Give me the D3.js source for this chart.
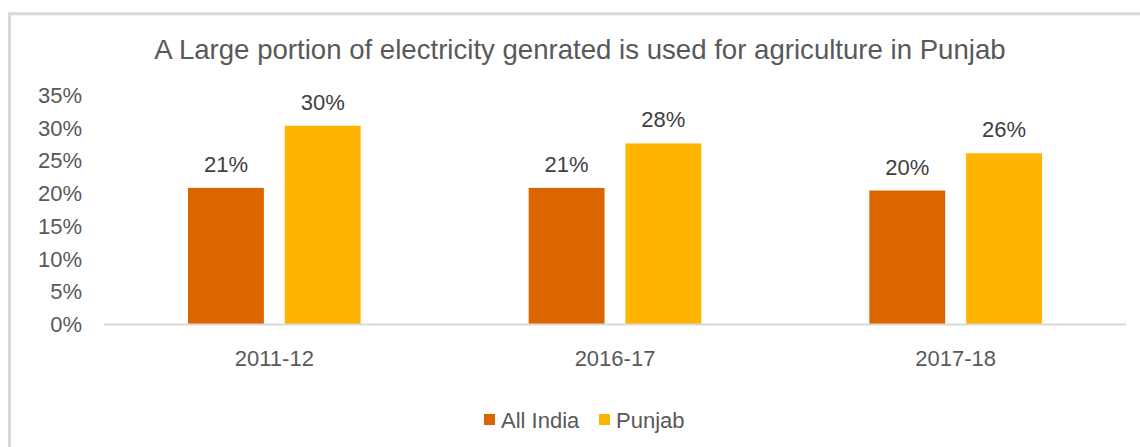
<!DOCTYPE html>
<html>
<head>
<meta charset="utf-8">
<style>
  body { margin: 0; background: #fff; }
  text { font-family: "Liberation Sans", Arial, sans-serif; fill: #595959; }
</style>
</head>
<body>
<svg width="1140" height="447"></svg>
<script src="https://d3js.org/d3.v7.min.js"></script>
<script>
var categories = ["2011-12", "2016-17", "2017-18"];
var series = ["All India", "Punjab"];
var allIndia = [20.8, 20.8, 20.4];
var punjab = [30.3, 27.6, 26.1];
var labels = [["21%", "30%"], ["21%", "28%"], ["20%", "26%"]];
var yTicks = [0, 5, 10, 15, 20, 25, 30, 35];
var colors = ["#db6600", "#ffb400"];

var svg = d3.select("svg");

// outer border, cut off on right and bottom
svg.append("rect")
    .attr("x", 9.5).attr("y", 13.8)
    .attr("width", 1160).attr("height", 460)
    .attr("fill", "none")
    .attr("stroke", "#d9d9d9")
    .attr("stroke-width", 3);

svg.append("text")
    .attr("x", 580).attr("y", 59)
    .attr("text-anchor", "middle")
    .attr("font-size", 27.6)
    .text("A Large portion of electricity genrated is used for agriculture in Punjab");

var y = d3.scaleLinear().domain([0, 35]).range([324, 95]);

var x0 = d3.scaleBand().domain(categories).range([104, 1126]);
var x1 = d3.scaleBand().domain(series)
    .range([84, x0.bandwidth() - 84])
    .paddingInner(0.216);

// y labels
svg.append("g").selectAll("text")
  .data(yTicks)
  .enter().append("text")
    .attr("x", 82)
    .attr("y", function(d) { return y(d) + 8; })
    .attr("text-anchor", "end")
    .attr("font-size", 22)
    .text(function(d) { return d + "%"; });

var rows = categories.map(function(c, i) {
  return { cat: c, vals: [allIndia[i], punjab[i]], labs: labels[i] };
});

var groups = svg.append("g").selectAll("g")
  .data(rows)
  .enter().append("g")
    .attr("transform", function(d) { return "translate(" + x0(d.cat) + ",0)"; });

groups.selectAll("rect")
  .data(function(d) { return d.vals.map(function(v, j) { return { s: series[j], v: v, j: j }; }); })
  .enter().append("rect")
    .attr("x", function(d) { return x1(d.s); })
    .attr("y", function(d) { return y(d.v); })
    .attr("width", x1.bandwidth())
    .attr("height", function(d) { return y(0) - y(d.v); })
    .attr("fill", function(d) { return colors[d.j]; });

groups.selectAll("text")
  .data(function(d) { return d.vals.map(function(v, j) { return { s: series[j], v: v, l: d.labs[j] }; }); })
  .enter().append("text")
    .attr("x", function(d) { return x1(d.s) + x1.bandwidth() / 2; })
    .attr("y", function(d) { return y(d.v) - 16; })
    .attr("text-anchor", "middle")
    .attr("font-size", 22)
    .style("fill", "#404040")
    .text(function(d) { return d.l; });

// baseline
svg.append("line")
    .attr("x1", 104).attr("x2", 1126)
    .attr("y1", y(0) + 0.5).attr("y2", y(0) + 0.5)
    .attr("stroke", "#d9d9d9")
    .attr("stroke-width", 2);

// category labels
svg.append("g").selectAll("text")
  .data(categories)
  .enter().append("text")
    .attr("x", function(d) { return x0(d) + x0.bandwidth() / 2; })
    .attr("y", 366)
    .attr("text-anchor", "middle")
    .attr("font-size", 22)
    .text(function(d) { return d; });

// legend
var legend = svg.append("g");
var legX = [484, 599];
series.forEach(function(s, i) {
  legend.append("rect")
    .attr("x", legX[i]).attr("y", 414)
    .attr("width", 11).attr("height", 11)
    .attr("fill", colors[i]);
  legend.append("text")
    .attr("x", legX[i] + 17).attr("y", 428)
    .attr("font-size", 22)
    .text(s);
});
</script>
</body>
</html>
